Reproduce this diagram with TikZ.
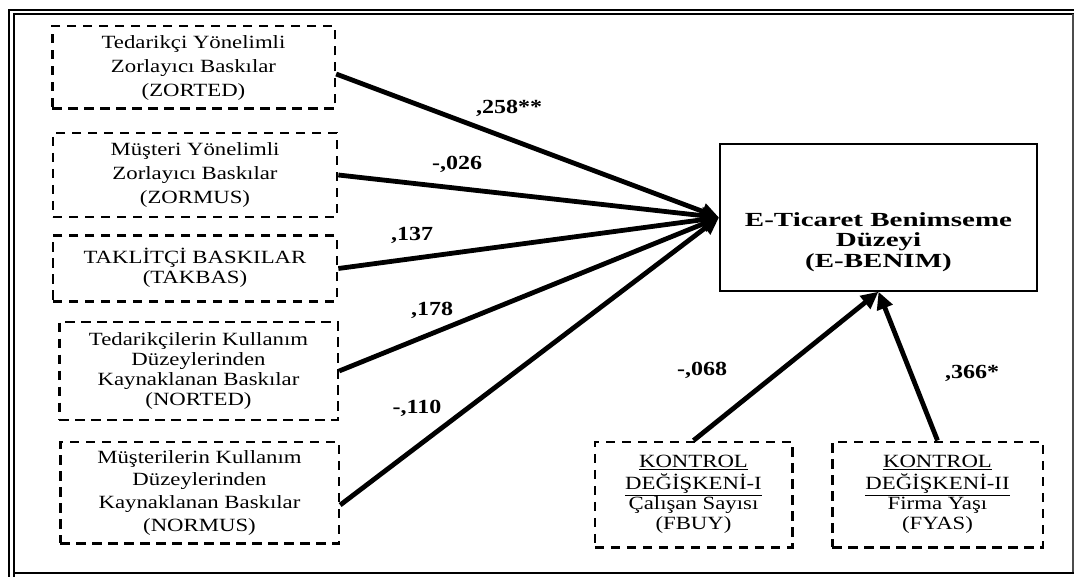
\documentclass[tikz,border=0pt]{standalone}
\usepackage{graphicx}
\usepackage{fontspec}
\setmainfont{Liberation Serif}[FakeStretch=1.2]
\newfontfamily\boitefont{Liberation Serif}
\newfontfamily\titrefont{Liberation Serif}[FakeStretch=1.45]
\usetikzlibrary{arrows.meta}
% texte des boites, etire horizontalement
\newcommand{\etire}[1]{\scalebox{1.22}[1]{\begin{tabular}{@{}c@{}}#1\end{tabular}}}

\begin{document}
\begin{tikzpicture}[x=0.75pt,y=-0.75pt]
% Styles
\tikzstyle{fleche}=[-{Triangle[length=13pt,width=12pt]},line width=3.6pt]
\tikzstyle{boitevar}=[draw,line width=2pt,dash pattern=on 7pt off 5pt,inner sep=0pt]
\tikzstyle{cible}=[draw,line width=1.3pt,inner sep=0pt]
\tikzstyle{titre}=[align=center,font=\titrefont\bfseries\fontsize{15}{15.5}\selectfont]
\tikzstyle{coef}=[font=\bfseries\fontsize{15}{15}\selectfont]
\useasboundingbox (0,0) rectangle (1074,577);
% Cadre
\draw[line width=1.6pt] (9,577) -- (9,10) -- (1074,10);
\draw[line width=1pt] (14,577) -- (14,14) -- (1074,14);
\draw[line width=0.8pt,black!70] (1073,14) -- (1073,573);
\draw[line width=1.6pt] (14,573) -- (1074,573);
% Variables
\node[boitevar,minimum width=212pt,minimum height=62pt,font=\boitefont\fontsize{14}{18}\selectfont] (ZORTED) at (193.5,67.5)
  {\etire{Tedarikçi Yönelimli\\Zorlayıcı Baskılar\\(ZORTED)}};
\node[boitevar,minimum width=213pt,minimum height=63pt,font=\boitefont\fontsize{14}{18}\selectfont] (ZORMUS) at (195,175)
  {\etire{Müşteri Yönelimli\\Zorlayıcı Baskılar\\(ZORMUS)}};
\node[boitevar,minimum width=213pt,minimum height=49pt,font=\boitefont\fontsize{14}{15}\selectfont] (TAKBAS) at (195,268.5)
  {\etire{TAKLİTÇİ BASKILAR\\(TAKBAS)}};
\node[boitevar,minimum width=209pt,minimum height=73.5pt,font=\boitefont\fontsize{14}{15}\selectfont] (NORTED) at (198.5,371)
  {\etire{Tedarikçilerin Kullanım\\Düzeylerinden\\Kaynaklanan Baskılar\\(NORTED)}};
\node[boitevar,minimum width=209pt,minimum height=76pt,font=\boitefont\fontsize{14}{17}\selectfont] (NORMUS) at (199.5,492.5)
  {\etire{Müşterilerin Kullanım\\Düzeylerinden\\Kaynaklanan Baskılar\\(NORMUS)}};
\node[cible,minimum width=238pt,minimum height=110pt] (EBENIM) at (878.5,217.5) {};
\node[titre] (EBENIMtxt) at (878.5,242) {E-Ticaret Benimseme\\Düzeyi\\(E-BENIM)};
\node[boitevar,minimum width=148pt,minimum height=79pt,font=\boitefont\fontsize{14}{14.6}\selectfont] (FBUY) at (693.5,494.5)
  {\raisebox{3pt}{\etire{\underline{KONTROL}\\\underline{DEĞİŞKENİ-I}\\Çalışan Sayısı\\(FBUY)}}};
\node[boitevar,minimum width=158pt,minimum height=79pt,font=\boitefont\fontsize{14}{14.6}\selectfont] (FYAS) at (937.5,494.5)
  {\raisebox{3pt}{\etire{\underline{KONTROL}\\\underline{DEĞİŞKENİ-II}\\Firma Yaşı\\(FYAS)}}};
% Coefficients
\node[coef] (cZORTED) at (509,108) {,258**};
\node[coef] (cZORMUS) at (457,164) {-,026};
\node[coef] (cTAKBAS) at (412,235) {,137};
\node[coef] (cNORTED) at (432,310) {,178};
\node[coef] (cNORMUS) at (417,408) {-,110};
\node[coef] (cFBUY) at (702,370) {-,068};
\node[coef] (cFYAS) at (972,373) {,366*};
% Arcs
\draw[fleche] ([yshift=-4.9pt]ZORTED.east) -- (EBENIM.west);
\draw[fleche] (ZORMUS.east) -- (EBENIM.west);
\draw[fleche] (TAKBAS.east) -- (EBENIM.west);
\draw[fleche] (NORTED.east) -- (EBENIM.west);
\draw[fleche] ([yshift=-9.4pt]NORMUS.east) -- (EBENIM.west);
\draw[fleche] (FBUY.north) -- (EBENIM.south);
\draw[fleche] (FYAS.north) -- (EBENIM.south);
\end{tikzpicture}
\end{document}
